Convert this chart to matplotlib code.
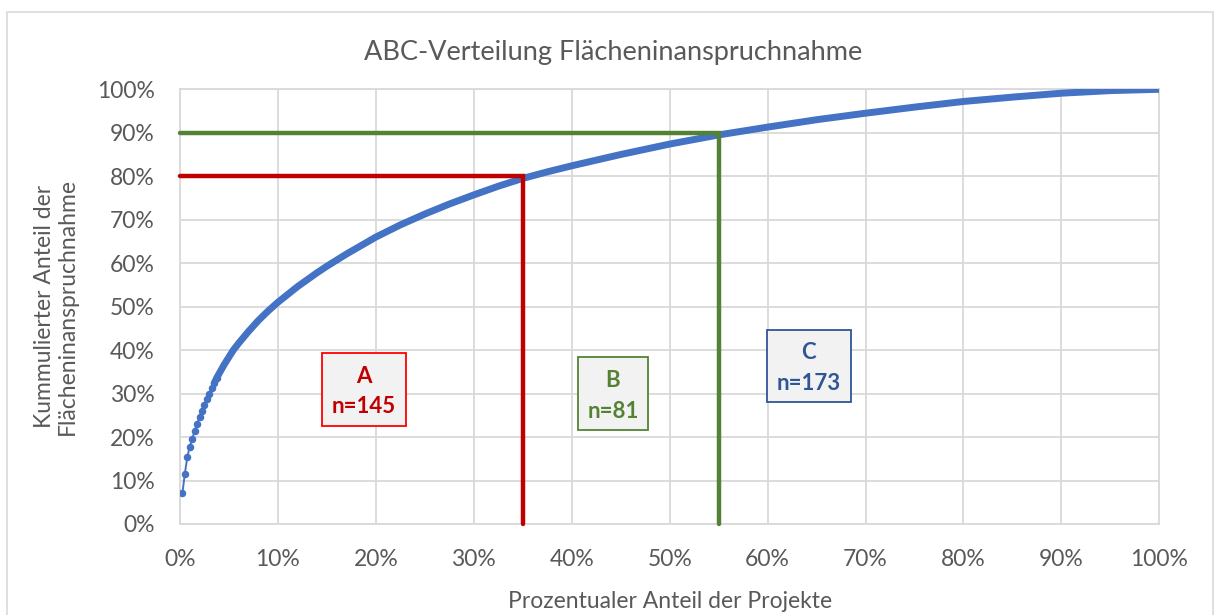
import matplotlib.pyplot as plt
from matplotlib.patches import Rectangle
from matplotlib.ticker import MultipleLocator, FuncFormatter

# Anteil der Projekte (%) und kumulierter Anteil der Flaeche (%)
proj_share = [0.25, 0.5, 0.75, 1.0, 1.25, 1.5, 1.75, 2.0, 2.25, 2.5, 2.75, 3.0,
              3.25, 3.5, 3.75, 4.0, 4.5, 5.0, 5.45, 6.0, 7.0, 8.0, 9.0, 9.5,
              10.0, 11.0, 12.0, 13.0, 14.0, 15.0, 16.0, 17.0, 18.0, 19.0, 20.0,
              22.5, 25.0, 27.5, 30.0, 32.5, 35.0, 37.5, 40.0, 45.0, 50.0, 55.0,
              60.0, 65.0, 70.0, 75.0, 80.0, 85.0, 90.0, 95.0, 100.0]
area_share = [7.1, 11.6, 15.4, 17.8, 19.5, 21.4, 23.1, 24.6, 26.0, 27.4, 28.7, 30.0,
              31.2, 32.4, 33.6, 34.6, 36.6, 38.4, 40.0, 41.6, 44.3, 46.8, 49.0, 50.0,
              51.0, 52.8, 54.6, 56.2, 57.8, 59.3, 60.7, 62.1, 63.4, 64.7, 66.0,
              68.8, 71.3, 73.6, 75.7, 77.7, 79.5, 81.0, 82.4, 85.0, 87.4, 89.5,
              91.3, 93.0, 94.5, 95.9, 97.2, 98.2, 99.1, 99.7, 100.0]

# Klassengrenzen
limit_y = [80, 90]
limit_x = [35, 55]
limit_colors = ['#C00000', '#548235']

# Klassen-Boxen
classes = ['A', 'B', 'C']
counts = [145, 81, 173]
box_cx = [18.8, 44.2, 64.2]
box_cy = [31.0, 30.0, 36.4]
box_w = [8.6, 7.2, 8.6]
box_h = [16.8, 16.8, 16.6]
text_colors = ['#C00000', '#548235', '#2F5597']
edge_colors = ['#FF0000', '#548235', '#2F5597']

txt = '#595959'
grid = '#D9D9D9'
blue = '#4472C4'

plt.rcParams['font.family'] = ['Lato', 'DejaVu Sans']

fig = plt.figure(figsize=(12.2, 6.15), dpi=100)
ax = fig.add_axes([0.1475, 0.148, 0.8028, 0.7068])

# Rahmen um das Diagramm
fig.patches.append(Rectangle((7 / 1220, -0.05), 1206 / 1220, 1.05 - 12 / 615,
                             transform=fig.transFigure, fill=False,
                             edgecolor=grid, linewidth=1.2))

# Lorenzkurve: einzelne Punkte am Anfang, danach dichte Linie
n_dots = 15
ax.plot(proj_share, area_share, color=blue, linewidth=1.4, zorder=3)
ax.plot(proj_share[:n_dots], area_share[:n_dots], 'o', color=blue,
        markersize=4.4, zorder=3)
ax.plot(proj_share[n_dots - 2:], area_share[n_dots - 2:], color=blue,
        linewidth=5.0, solid_capstyle='round', solid_joinstyle='round',
        zorder=3)

for yl, xl, c in zip(limit_y, limit_x, limit_colors):
    ax.plot([0, xl, xl], [yl, yl, 0], color=c, linewidth=3.2,
            solid_joinstyle='miter', solid_capstyle='round', zorder=4,
            clip_on=False)

for k, n, cx, cy, w, h, tc, ec in zip(classes, counts, box_cx, box_cy, box_w,
                                      box_h, text_colors, edge_colors):
    ax.add_patch(Rectangle((cx - w / 2, cy - h / 2), w, h, facecolor='#F2F2F2',
                           edgecolor=ec, linewidth=1.3, zorder=5))
    ax.text(cx, cy + h * 0.18, k, color=tc, fontsize=16, fontweight='bold',
            ha='center', va='center', zorder=6)
    ax.text(cx, cy - h * 0.24, 'n=%d' % n, color=tc, fontsize=16,
            fontweight='bold', ha='center', va='center', zorder=6)

ax.set_xlim(0, 100)
ax.set_ylim(0, 100)
ax.xaxis.set_major_locator(MultipleLocator(10))
ax.yaxis.set_major_locator(MultipleLocator(10))
pct = FuncFormatter(lambda v, p: '%d%%' % round(v))
ax.xaxis.set_major_formatter(pct)
ax.yaxis.set_major_formatter(pct)
ax.grid(True, color=grid, linewidth=1.3)
ax.set_axisbelow(True)
for s in ax.spines.values():
    s.set_color(grid)
    s.set_linewidth(1.3)
ax.tick_params(length=0, labelsize=16.5, labelcolor=txt, pad=18)

ax.set_xlabel('Prozentualer Anteil der Projekte', fontsize=16.5, color=txt,
              labelpad=15)
ax.set_ylabel('Kummulierter Anteil der\nFlächeninanspruchnahme', fontsize=16.5,
              color=txt, labelpad=14, linespacing=1.1)
fig.text(0.5025, 0.915, 'ABC-Verteilung Flächeninanspruchnahme', fontsize=19.5,
         color=txt, ha='center', va='center')

fig.savefig('out.png', dpi=100, facecolor='white')
